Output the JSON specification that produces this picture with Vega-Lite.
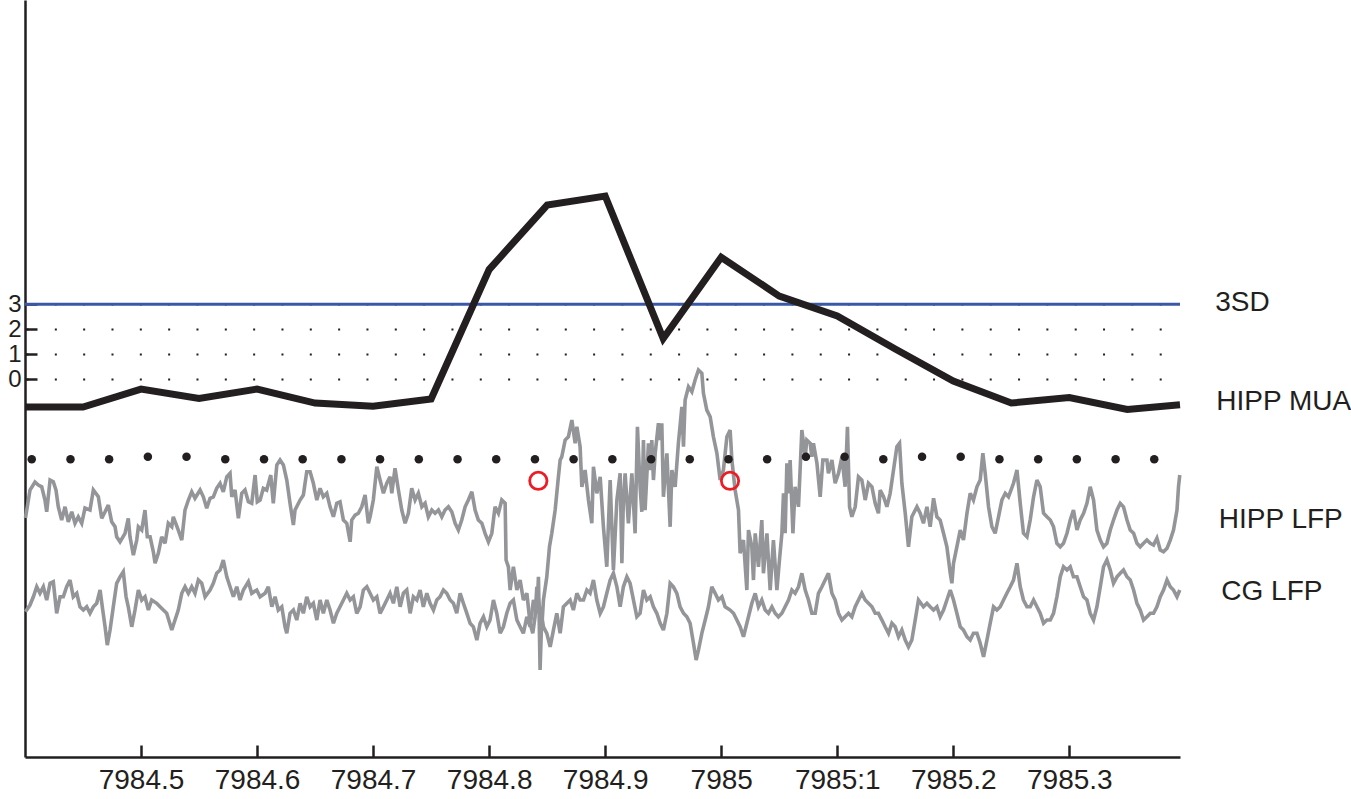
{
"$schema":"https://vega.github.io/schema/vega-lite/v6.json",
"width":1155,"height":757,
"autosize":{"type":"none"},
"padding":{"left":25,"top":0,"right":171,"bottom":42},
"background":"white",
"config":{"view":{"stroke":null},
 "axis":{"title":null,"domainColor":"#231f20","domainWidth":2.5,"tickColor":"#231f20","tickWidth":2.5,"tickSize":-12,"labelFont":"Liberation Sans","labelFontSize":28,"labelColor":"#231f20","grid":false},
 "text":{"font":"Liberation Sans"}},
"datasets":{
"mua":[{"t":7984.4,"v":-1.11},{"t":7984.45,"v":-1.11},{"t":7984.5,"v":-0.39},{"t":7984.55,"v":-0.77},{"t":7984.6,"v":-0.39},{"t":7984.65,"v":-0.95},{"t":7984.7,"v":-1.08},{"t":7984.75,"v":-0.79},{"t":7984.8,"v":4.39},{"t":7984.85,"v":6.97},{"t":7984.9,"v":7.33},{"t":7984.95,"v":1.63},{"t":7985.0,"v":4.88},{"t":7985.05,"v":3.33},{"t":7985.1,"v":2.53},{"t":7985.15,"v":1.21},{"t":7985.2,"v":-0.07},{"t":7985.25,"v":-0.95},{"t":7985.3,"v":-0.73},{"t":7985.35,"v":-1.21},{"t":7985.3954,"v":-1.02}],
"hipp":[{"t":7984.4004,"v":-5.55},{"t":7984.4043,"v":-4.43},{"t":7984.4086,"v":-4.11},{"t":7984.4115,"v":-4.23},{"t":7984.4144,"v":-4.3},{"t":7984.4172,"v":-4.83},{"t":7984.4187,"v":-5.3},{"t":7984.4216,"v":-4.03},{"t":7984.4244,"v":-4.1},{"t":7984.4267,"v":-4.43},{"t":7984.4287,"v":-5.1},{"t":7984.4316,"v":-5.63},{"t":7984.4345,"v":-5.1},{"t":7984.4373,"v":-5.7},{"t":7984.4403,"v":-5.3},{"t":7984.4431,"v":-5.76},{"t":7984.4459,"v":-5.5},{"t":7984.4489,"v":-5.76},{"t":7984.4517,"v":-5.15},{"t":7984.456,"v":-5.23},{"t":7984.4589,"v":-4.43},{"t":7984.4632,"v":-4.7},{"t":7984.4661,"v":-5.56},{"t":7984.469,"v":-5.3},{"t":7984.4718,"v":-5.03},{"t":7984.4747,"v":-5.7},{"t":7984.4776,"v":-5.9},{"t":7984.479,"v":-6.3},{"t":7984.4819,"v":-6.5},{"t":7984.4862,"v":-6.16},{"t":7984.489,"v":-5.56},{"t":7984.4905,"v":-6.3},{"t":7984.4934,"v":-7.03},{"t":7984.4963,"v":-6.43},{"t":7984.4977,"v":-5.9},{"t":7984.5006,"v":-6.03},{"t":7984.5034,"v":-5.23},{"t":7984.5054,"v":-6.3},{"t":7984.5078,"v":-6.3},{"t":7984.5106,"v":-6.9},{"t":7984.5121,"v":-7.36},{"t":7984.5149,"v":-6.96},{"t":7984.5178,"v":-6.3},{"t":7984.5207,"v":-6.56},{"t":7984.5235,"v":-5.76},{"t":7984.5265,"v":-5.9},{"t":7984.5278,"v":-5.5},{"t":7984.5321,"v":-6.03},{"t":7984.5351,"v":-6.43},{"t":7984.5379,"v":-5.23},{"t":7984.5408,"v":-4.83},{"t":7984.5437,"v":-4.5},{"t":7984.5465,"v":-4.76},{"t":7984.5509,"v":-4.43},{"t":7984.5537,"v":-4.7},{"t":7984.5566,"v":-5.16},{"t":7984.5595,"v":-4.76},{"t":7984.5623,"v":-4.7},{"t":7984.5652,"v":-4.36},{"t":7984.5681,"v":-4.16},{"t":7984.5709,"v":-4.5},{"t":7984.5739,"v":-3.9},{"t":7984.5767,"v":-3.76},{"t":7984.5782,"v":-4.7},{"t":7984.581,"v":-4.43},{"t":7984.5839,"v":-5.56},{"t":7984.5868,"v":-4.56},{"t":7984.5896,"v":-4.43},{"t":7984.5925,"v":-4.9},{"t":7984.5954,"v":-4.96},{"t":7984.5983,"v":-3.83},{"t":7984.6002,"v":-4.9},{"t":7984.6026,"v":-4.83},{"t":7984.6054,"v":-4.36},{"t":7984.6083,"v":-4.43},{"t":7984.6118,"v":-3.83},{"t":7984.614,"v":-4.96},{"t":7984.617,"v":-3.43},{"t":7984.6198,"v":-3.23},{"t":7984.6227,"v":-3.43},{"t":7984.6256,"v":-4.03},{"t":7984.6284,"v":-4.96},{"t":7984.6313,"v":-5.83},{"t":7984.6327,"v":-5.23},{"t":7984.6371,"v":-4.83},{"t":7984.6399,"v":-4.63},{"t":7984.6428,"v":-3.7},{"t":7984.6457,"v":-3.7},{"t":7984.6485,"v":-4.16},{"t":7984.6515,"v":-4.83},{"t":7984.6543,"v":-4.36},{"t":7984.6571,"v":-4.7},{"t":7984.6601,"v":-4.56},{"t":7984.6629,"v":-5.1},{"t":7984.6658,"v":-5.5},{"t":7984.6687,"v":-4.96},{"t":7984.6715,"v":-4.9},{"t":7984.6744,"v":-5.63},{"t":7984.6773,"v":-5.76},{"t":7984.6802,"v":-6.5},{"t":7984.6816,"v":-5.63},{"t":7984.6845,"v":-5.43},{"t":7984.6873,"v":-5.36},{"t":7984.6902,"v":-5.1},{"t":7984.6931,"v":-4.63},{"t":7984.6959,"v":-5.76},{"t":7984.6974,"v":-5.5},{"t":7984.7002,"v":-4.83},{"t":7984.7032,"v":-3.5},{"t":7984.706,"v":-4.03},{"t":7984.7089,"v":-4.56},{"t":7984.7118,"v":-4.16},{"t":7984.7146,"v":-3.9},{"t":7984.7161,"v":-4.56},{"t":7984.7189,"v":-3.56},{"t":7984.7218,"v":-4.43},{"t":7984.7247,"v":-5.23},{"t":7984.7276,"v":-5.76},{"t":7984.7304,"v":-5.36},{"t":7984.7333,"v":-4.36},{"t":7984.7362,"v":-4.83},{"t":7984.739,"v":-4.56},{"t":7984.742,"v":-5.1},{"t":7984.7448,"v":-4.96},{"t":7984.7476,"v":-5.5},{"t":7984.7506,"v":-5.23},{"t":7984.7534,"v":-5.36},{"t":7984.7563,"v":-5.23},{"t":7984.7592,"v":-5.5},{"t":7984.762,"v":-5.23},{"t":7984.7649,"v":-5.1},{"t":7984.7678,"v":-5.3},{"t":7984.7707,"v":-5.76},{"t":7984.7735,"v":-6.03},{"t":7984.7764,"v":-5.63},{"t":7984.7793,"v":-5.1},{"t":7984.7821,"v":-4.83},{"t":7984.7851,"v":-4.5},{"t":7984.7879,"v":-5.23},{"t":7984.7907,"v":-5.63},{"t":7984.7937,"v":-5.76},{"t":7984.7965,"v":-6.16},{"t":7984.7994,"v":-6.5},{"t":7984.8023,"v":-6.16},{"t":7984.8051,"v":-5.1},{"t":7984.808,"v":-5.36},{"t":7984.8109,"v":-4.83},{"t":7984.8138,"v":-4.96},{"t":7984.8146,"v":-7.23},{"t":7984.8166,"v":-7.5},{"t":7984.8181,"v":-8.43},{"t":7984.8209,"v":-7.5},{"t":7984.8239,"v":-8.43},{"t":7984.8267,"v":-8.03},{"t":7984.8295,"v":-8.83},{"t":7984.8325,"v":-8.56},{"t":7984.8353,"v":-9.76},{"t":7984.8376,"v":-10.16},{"t":7984.8396,"v":-9.5},{"t":7984.8411,"v":-8.3},{"t":7984.8439,"v":-9.36},{"t":7984.8454,"v":-9.9},{"t":7984.8468,"v":-8.83},{"t":7984.8497,"v":-7.9},{"t":7984.852,"v":-6.7},{"t":7984.854,"v":-6.16},{"t":7984.8569,"v":-5.23},{"t":7984.8597,"v":-3.9},{"t":7984.8612,"v":-3.23},{"t":7984.8626,"v":-3.1},{"t":7984.8655,"v":-2.43},{"t":7984.8683,"v":-2.3},{"t":7984.8713,"v":-1.63},{"t":7984.8741,"v":-2.56},{"t":7984.8756,"v":-1.9},{"t":7984.8784,"v":-2.7},{"t":7984.8799,"v":-4.3},{"t":7984.8827,"v":-3.63},{"t":7984.8856,"v":-4.83},{"t":7984.8885,"v":-5.76},{"t":7984.8899,"v":-3.5},{"t":7984.8928,"v":-4.56},{"t":7984.8957,"v":-3.9},{"t":7984.8985,"v":-5.9},{"t":7984.9014,"v":-7.5},{"t":7984.9043,"v":-4.03},{"t":7984.9071,"v":-7.63},{"t":7984.9101,"v":-4.83},{"t":7984.9129,"v":-3.76},{"t":7984.9144,"v":-7.36},{"t":7984.9157,"v":-4.83},{"t":7984.9172,"v":-3.76},{"t":7984.92,"v":-5.76},{"t":7984.923,"v":-3.76},{"t":7984.9258,"v":-6.16},{"t":7984.9278,"v":-1.9},{"t":7984.9301,"v":-4.3},{"t":7984.9316,"v":-5.3},{"t":7984.933,"v":-2.43},{"t":7984.9344,"v":-5.23},{"t":7984.9373,"v":-2.56},{"t":7984.9388,"v":-3.63},{"t":7984.9402,"v":-2.43},{"t":7984.9416,"v":-4.03},{"t":7984.9431,"v":-2.96},{"t":7984.9459,"v":-1.76},{"t":7984.9474,"v":-2.43},{"t":7984.9488,"v":-1.76},{"t":7984.9502,"v":-4.7},{"t":7984.9532,"v":-2.96},{"t":7984.956,"v":-5.9},{"t":7984.9575,"v":-3.63},{"t":7984.9603,"v":-4.3},{"t":7984.9631,"v":-2.56},{"t":7984.9661,"v":-1.1},{"t":7984.9675,"v":-2.7},{"t":7984.9689,"v":-0.83},{"t":7984.9718,"v":-0.3},{"t":7984.9747,"v":-0.5},{"t":7984.9775,"v":-0.03},{"t":7984.9804,"v":0.37},{"t":7984.9833,"v":0.24},{"t":7984.9847,"v":-0.56},{"t":7984.9876,"v":-1.23},{"t":7984.9905,"v":-1.5},{"t":7984.9933,"v":-2.3},{"t":7984.9963,"v":-2.96},{"t":7984.9991,"v":-4.03},{"t":7985.0019,"v":-3.63},{"t":7985.0049,"v":-2.3},{"t":7985.0077,"v":-2.03},{"t":7985.0092,"v":-3.23},{"t":7985.012,"v":-4.43},{"t":7985.0149,"v":-5.23},{"t":7985.0163,"v":-6.96},{"t":7985.0192,"v":-6.43},{"t":7985.0221,"v":-8.43},{"t":7985.0235,"v":-6.03},{"t":7985.0264,"v":-6.7},{"t":7985.0278,"v":-8.03},{"t":7985.0293,"v":-6.16},{"t":7985.0321,"v":-7.5},{"t":7985.035,"v":-5.63},{"t":7985.0364,"v":-7.76},{"t":7985.0394,"v":-6.16},{"t":7985.0422,"v":-8.43},{"t":7985.045,"v":-6.43},{"t":7985.048,"v":-8.43},{"t":7985.0502,"v":-7.23},{"t":7985.0523,"v":-6.16},{"t":7985.0537,"v":-4.56},{"t":7985.0551,"v":-6.16},{"t":7985.0566,"v":-3.36},{"t":7985.058,"v":-4.56},{"t":7985.0594,"v":-3.23},{"t":7985.0618,"v":-6.16},{"t":7985.0637,"v":-4.3},{"t":7985.0666,"v":-5.1},{"t":7985.0695,"v":-2.03},{"t":7985.0724,"v":-3.1},{"t":7985.0738,"v":-2.43},{"t":7985.0767,"v":-2.56},{"t":7985.0781,"v":-3.1},{"t":7985.0795,"v":-2.56},{"t":7985.0825,"v":-3.36},{"t":7985.0853,"v":-4.7},{"t":7985.0876,"v":-3.23},{"t":7985.0911,"v":-3.23},{"t":7985.0924,"v":-3.76},{"t":7985.0954,"v":-3.23},{"t":7985.0982,"v":-4.16},{"t":7985.1011,"v":-3.76},{"t":7985.104,"v":-3.1},{"t":7985.1068,"v":-4.3},{"t":7985.1088,"v":-1.9},{"t":7985.1106,"v":-5.1},{"t":7985.1126,"v":-5.5},{"t":7985.1155,"v":-5.1},{"t":7985.1183,"v":-3.9},{"t":7985.1212,"v":-4.03},{"t":7985.1241,"v":-4.83},{"t":7985.1269,"v":-4.16},{"t":7985.1299,"v":-4.3},{"t":7985.1327,"v":-4.96},{"t":7985.1355,"v":-5.36},{"t":7985.137,"v":-4.43},{"t":7985.1399,"v":-4.7},{"t":7985.1428,"v":-5.1},{"t":7985.1456,"v":-4.56},{"t":7985.1485,"v":-3.63},{"t":7985.1514,"v":-2.7},{"t":7985.1537,"v":-2.56},{"t":7985.1557,"v":-4.16},{"t":7985.1586,"v":-5.36},{"t":7985.1614,"v":-6.7},{"t":7985.1643,"v":-5.5},{"t":7985.1687,"v":-5.1},{"t":7985.1715,"v":-5.36},{"t":7985.1743,"v":-5.76},{"t":7985.1773,"v":-5.1},{"t":7985.1801,"v":-5.9},{"t":7985.183,"v":-4.76},{"t":7985.1859,"v":-5.5},{"t":7985.1887,"v":-5.63},{"t":7985.1916,"v":-6.16},{"t":7985.1945,"v":-6.7},{"t":7985.1974,"v":-7.76},{"t":7985.1988,"v":-8.16},{"t":7985.2002,"v":-7.36},{"t":7985.2031,"v":-6.7},{"t":7985.206,"v":-6.03},{"t":7985.2088,"v":-6.43},{"t":7985.2118,"v":-5.36},{"t":7985.2146,"v":-4.56},{"t":7985.2174,"v":-4.83},{"t":7985.2204,"v":-4.3},{"t":7985.2232,"v":-4.03},{"t":7985.2255,"v":-2.96},{"t":7985.2275,"v":-3.76},{"t":7985.2304,"v":-5.1},{"t":7985.2333,"v":-5.9},{"t":7985.2361,"v":-6.16},{"t":7985.239,"v":-5.5},{"t":7985.2419,"v":-4.83},{"t":7985.2448,"v":-4.56},{"t":7985.2476,"v":-4.7},{"t":7985.2519,"v":-4.16},{"t":7985.2549,"v":-3.63},{"t":7985.2577,"v":-4.96},{"t":7985.2605,"v":-6.16},{"t":7985.2635,"v":-6.3},{"t":7985.2663,"v":-5.63},{"t":7985.2692,"v":-4.7},{"t":7985.2721,"v":-4.03},{"t":7985.2749,"v":-4.3},{"t":7985.2778,"v":-5.36},{"t":7985.2807,"v":-5.5},{"t":7985.2836,"v":-5.63},{"t":7985.2864,"v":-5.9},{"t":7985.2893,"v":-6.56},{"t":7985.2922,"v":-6.7},{"t":7985.295,"v":-6.56},{"t":7985.298,"v":-6.16},{"t":7985.3008,"v":-5.63},{"t":7985.3036,"v":-5.23},{"t":7985.3066,"v":-6.03},{"t":7985.3094,"v":-5.63},{"t":7985.3123,"v":-5.36},{"t":7985.3152,"v":-4.96},{"t":7985.318,"v":-4.3},{"t":7985.3209,"v":-4.83},{"t":7985.3238,"v":-6.03},{"t":7985.3267,"v":-6.43},{"t":7985.3295,"v":-6.7},{"t":7985.3324,"v":-6.56},{"t":7985.3353,"v":-6.03},{"t":7985.3381,"v":-5.63},{"t":7985.3411,"v":-5.23},{"t":7985.3439,"v":-4.96},{"t":7985.3467,"v":-5.1},{"t":7985.3497,"v":-5.63},{"t":7985.3525,"v":-6.03},{"t":7985.3554,"v":-6.16},{"t":7985.3583,"v":-6.56},{"t":7985.3611,"v":-6.7},{"t":7985.364,"v":-6.56},{"t":7985.3669,"v":-6.43},{"t":7985.3698,"v":-6.56},{"t":7985.3726,"v":-6.63},{"t":7985.3755,"v":-6.36},{"t":7985.3784,"v":-6.83},{"t":7985.3812,"v":-6.9},{"t":7985.3842,"v":-6.76},{"t":7985.387,"v":-6.43},{"t":7985.3898,"v":-6.03},{"t":7985.3928,"v":-5.23},{"t":7985.3941,"v":-4.3},{"t":7985.3952,"v":-3.83}],
"cg":[{"t":7984.4004,"v":-9.3},{"t":7984.4043,"v":-9.03},{"t":7984.4072,"v":-8.7},{"t":7984.4101,"v":-8.3},{"t":7984.4129,"v":-8.56},{"t":7984.4158,"v":-8.3},{"t":7984.4187,"v":-8.83},{"t":7984.4216,"v":-8.16},{"t":7984.4244,"v":-8.1},{"t":7984.4273,"v":-9.36},{"t":7984.4302,"v":-8.7},{"t":7984.433,"v":-8.7},{"t":7984.4359,"v":-8.3},{"t":7984.4388,"v":-8.03},{"t":7984.4416,"v":-8.7},{"t":7984.4446,"v":-8.56},{"t":7984.4474,"v":-9.1},{"t":7984.4503,"v":-9.23},{"t":7984.4532,"v":-9.1},{"t":7984.456,"v":-9.36},{"t":7984.4589,"v":-9.1},{"t":7984.4618,"v":-8.96},{"t":7984.4647,"v":-8.43},{"t":7984.467,"v":-9.23},{"t":7984.469,"v":-9.9},{"t":7984.4709,"v":-10.63},{"t":7984.4733,"v":-10.03},{"t":7984.4761,"v":-9.1},{"t":7984.479,"v":-8.16},{"t":7984.4819,"v":-7.9},{"t":7984.4847,"v":-7.7},{"t":7984.4871,"v":-8.7},{"t":7984.489,"v":-9.1},{"t":7984.492,"v":-9.9},{"t":7984.4948,"v":-9.23},{"t":7984.4977,"v":-8.43},{"t":7984.5006,"v":-8.83},{"t":7984.5034,"v":-8.7},{"t":7984.5063,"v":-9.23},{"t":7984.5092,"v":-8.83},{"t":7984.5135,"v":-8.96},{"t":7984.5164,"v":-9.1},{"t":7984.5192,"v":-9.23},{"t":7984.5221,"v":-9.36},{"t":7984.5265,"v":-10.03},{"t":7984.5293,"v":-9.63},{"t":7984.5321,"v":-9.23},{"t":7984.5351,"v":-8.56},{"t":7984.5379,"v":-8.3},{"t":7984.5408,"v":-8.56},{"t":7984.5437,"v":-8.3},{"t":7984.5465,"v":-8.56},{"t":7984.5494,"v":-8.03},{"t":7984.5523,"v":-8.16},{"t":7984.5552,"v":-8.7},{"t":7984.5595,"v":-8.43},{"t":7984.5623,"v":-8.16},{"t":7984.5652,"v":-7.76},{"t":7984.5681,"v":-7.63},{"t":7984.5709,"v":-7.23},{"t":7984.5739,"v":-7.9},{"t":7984.5767,"v":-8.3},{"t":7984.5796,"v":-8.7},{"t":7984.5825,"v":-8.3},{"t":7984.5853,"v":-8.83},{"t":7984.5882,"v":-8.43},{"t":7984.5925,"v":-8.1},{"t":7984.5954,"v":-8.56},{"t":7984.5997,"v":-8.43},{"t":7984.6026,"v":-8.7},{"t":7984.6069,"v":-8.56},{"t":7984.6097,"v":-8.3},{"t":7984.6127,"v":-9.1},{"t":7984.6155,"v":-8.7},{"t":7984.6183,"v":-9.23},{"t":7984.6213,"v":-9.1},{"t":7984.6241,"v":-9.9},{"t":7984.6256,"v":-10.16},{"t":7984.6284,"v":-9.36},{"t":7984.6313,"v":-9.23},{"t":7984.6342,"v":-9.63},{"t":7984.6371,"v":-8.96},{"t":7984.6399,"v":-9.36},{"t":7984.6428,"v":-8.7},{"t":7984.6457,"v":-9.1},{"t":7984.6485,"v":-8.96},{"t":7984.6515,"v":-9.63},{"t":7984.6543,"v":-8.83},{"t":7984.6571,"v":-9.36},{"t":7984.6601,"v":-8.83},{"t":7984.6629,"v":-9.23},{"t":7984.6658,"v":-9.76},{"t":7984.6687,"v":-9.36},{"t":7984.6715,"v":-9.1},{"t":7984.6744,"v":-8.83},{"t":7984.6773,"v":-8.56},{"t":7984.6802,"v":-8.83},{"t":7984.683,"v":-8.7},{"t":7984.6859,"v":-9.36},{"t":7984.6888,"v":-9.1},{"t":7984.6916,"v":-8.43},{"t":7984.6946,"v":-8.3},{"t":7984.6974,"v":-8.56},{"t":7984.7002,"v":-8.83},{"t":7984.7032,"v":-8.7},{"t":7984.706,"v":-9.36},{"t":7984.7089,"v":-9.1},{"t":7984.7118,"v":-8.83},{"t":7984.7146,"v":-8.56},{"t":7984.7175,"v":-8.96},{"t":7984.7204,"v":-8.3},{"t":7984.7233,"v":-9.1},{"t":7984.7261,"v":-8.56},{"t":7984.729,"v":-8.43},{"t":7984.7319,"v":-9.36},{"t":7984.7347,"v":-8.7},{"t":7984.7377,"v":-8.83},{"t":7984.7405,"v":-8.43},{"t":7984.7433,"v":-9.1},{"t":7984.7463,"v":-8.56},{"t":7984.7491,"v":-8.96},{"t":7984.752,"v":-9.23},{"t":7984.7549,"v":-8.83},{"t":7984.7577,"v":-8.7},{"t":7984.7606,"v":-8.43},{"t":7984.7635,"v":-8.56},{"t":7984.7664,"v":-8.83},{"t":7984.7692,"v":-8.96},{"t":7984.7721,"v":-9.36},{"t":7984.775,"v":-8.56},{"t":7984.7778,"v":-8.96},{"t":7984.7808,"v":-9.36},{"t":7984.7836,"v":-9.76},{"t":7984.7864,"v":-9.9},{"t":7984.7894,"v":-10.43},{"t":7984.7922,"v":-9.76},{"t":7984.7951,"v":-9.5},{"t":7984.798,"v":-9.9},{"t":7984.8008,"v":-9.63},{"t":7984.8037,"v":-8.83},{"t":7984.8066,"v":-9.36},{"t":7984.8095,"v":-10.16},{"t":7984.8123,"v":-9.9},{"t":7984.8152,"v":-9.36},{"t":7984.8181,"v":-8.96},{"t":7984.8209,"v":-8.83},{"t":7984.8239,"v":-9.63},{"t":7984.8267,"v":-9.9},{"t":7984.8295,"v":-10.16},{"t":7984.8325,"v":-9.5},{"t":7984.8353,"v":-9.9},{"t":7984.8382,"v":-8.83},{"t":7984.8411,"v":-9.36},{"t":7984.8425,"v":-7.9},{"t":7984.8439,"v":-11.63},{"t":7984.8454,"v":-9.5},{"t":7984.8468,"v":-9.9},{"t":7984.8497,"v":-10.16},{"t":7984.8526,"v":-10.7},{"t":7984.8554,"v":-10.03},{"t":7984.8583,"v":-9.36},{"t":7984.8612,"v":-10.16},{"t":7984.864,"v":-9.1},{"t":7984.867,"v":-8.96},{"t":7984.8698,"v":-8.83},{"t":7984.8726,"v":-9.23},{"t":7984.8756,"v":-8.56},{"t":7984.8784,"v":-8.83},{"t":7984.8813,"v":-8.83},{"t":7984.8842,"v":-8.43},{"t":7984.887,"v":-8.56},{"t":7984.8899,"v":-8.03},{"t":7984.8928,"v":-8.83},{"t":7984.8957,"v":-9.36},{"t":7984.8985,"v":-9.1},{"t":7984.9014,"v":-8.56},{"t":7984.9043,"v":-8.03},{"t":7984.9071,"v":-7.76},{"t":7984.9101,"v":-8.3},{"t":7984.9129,"v":-9.1},{"t":7984.9157,"v":-8.3},{"t":7984.9187,"v":-7.9},{"t":7984.9215,"v":-8.16},{"t":7984.9244,"v":-8.83},{"t":7984.9273,"v":-9.5},{"t":7984.9301,"v":-9.36},{"t":7984.933,"v":-8.43},{"t":7984.9359,"v":-8.83},{"t":7984.9388,"v":-8.7},{"t":7984.9416,"v":-9.1},{"t":7984.9445,"v":-9.36},{"t":7984.9474,"v":-9.76},{"t":7984.9502,"v":-10.03},{"t":7984.9532,"v":-9.36},{"t":7984.956,"v":-8.16},{"t":7984.9588,"v":-8.3},{"t":7984.9618,"v":-8.56},{"t":7984.9646,"v":-9.1},{"t":7984.9675,"v":-9.36},{"t":7984.9704,"v":-9.5},{"t":7984.9732,"v":-9.76},{"t":7984.9761,"v":-10.56},{"t":7984.9784,"v":-11.23},{"t":7984.9804,"v":-10.83},{"t":7984.9833,"v":-10.16},{"t":7984.9862,"v":-9.63},{"t":7984.989,"v":-9.1},{"t":7984.9919,"v":-8.3},{"t":7984.9948,"v":-8.56},{"t":7984.9976,"v":-8.83},{"t":7985.0006,"v":-8.7},{"t":7985.0034,"v":-9.1},{"t":7985.0077,"v":-9.23},{"t":7985.0106,"v":-9.36},{"t":7985.0135,"v":-9.63},{"t":7985.0163,"v":-9.9},{"t":7985.0192,"v":-10.3},{"t":7985.0221,"v":-9.76},{"t":7985.0264,"v":-8.96},{"t":7985.0293,"v":-8.56},{"t":7985.0321,"v":-9.1},{"t":7985.035,"v":-8.83},{"t":7985.0379,"v":-9.23},{"t":7985.0407,"v":-9.36},{"t":7985.0437,"v":-9.1},{"t":7985.0465,"v":-9.36},{"t":7985.0493,"v":-9.5},{"t":7985.0523,"v":-9.36},{"t":7985.0551,"v":-9.1},{"t":7985.058,"v":-8.83},{"t":7985.0609,"v":-8.43},{"t":7985.0637,"v":-8.56},{"t":7985.0666,"v":-8.3},{"t":7985.0695,"v":-7.76},{"t":7985.0724,"v":-8.43},{"t":7985.0752,"v":-8.83},{"t":7985.0781,"v":-9.36},{"t":7985.081,"v":-9.36},{"t":7985.0838,"v":-8.56},{"t":7985.0868,"v":-8.3},{"t":7985.0896,"v":-8.03},{"t":7985.0924,"v":-7.76},{"t":7985.0954,"v":-8.56},{"t":7985.0982,"v":-8.83},{"t":7985.1011,"v":-9.36},{"t":7985.104,"v":-9.63},{"t":7985.1068,"v":-9.5},{"t":7985.1097,"v":-9.36},{"t":7985.1126,"v":-9.5},{"t":7985.1155,"v":-9.1},{"t":7985.1183,"v":-8.83},{"t":7985.1212,"v":-8.56},{"t":7985.1241,"v":-8.83},{"t":7985.1269,"v":-8.96},{"t":7985.1299,"v":-9.1},{"t":7985.1327,"v":-9.36},{"t":7985.1355,"v":-9.36},{"t":7985.1385,"v":-9.63},{"t":7985.1413,"v":-9.9},{"t":7985.1442,"v":-10.16},{"t":7985.1471,"v":-9.76},{"t":7985.1499,"v":-9.9},{"t":7985.1528,"v":-10.3},{"t":7985.1557,"v":-10.03},{"t":7985.1586,"v":-10.43},{"t":7985.1614,"v":-10.7},{"t":7985.1643,"v":-10.43},{"t":7985.1672,"v":-9.63},{"t":7985.17,"v":-8.83},{"t":7985.1743,"v":-9.1},{"t":7985.1773,"v":-8.96},{"t":7985.1801,"v":-9.1},{"t":7985.183,"v":-9.23},{"t":7985.1859,"v":-9.1},{"t":7985.1887,"v":-9.5},{"t":7985.1916,"v":-9.23},{"t":7985.1945,"v":-8.83},{"t":7985.1974,"v":-8.43},{"t":7985.2002,"v":-8.83},{"t":7985.2031,"v":-9.36},{"t":7985.206,"v":-9.9},{"t":7985.2088,"v":-10.03},{"t":7985.2118,"v":-10.3},{"t":7985.2146,"v":-10.43},{"t":7985.2174,"v":-10.16},{"t":7985.2204,"v":-10.16},{"t":7985.2232,"v":-10.56},{"t":7985.2261,"v":-11.1},{"t":7985.229,"v":-10.43},{"t":7985.2318,"v":-9.76},{"t":7985.2347,"v":-9.1},{"t":7985.2376,"v":-9.23},{"t":7985.2405,"v":-9.1},{"t":7985.2433,"v":-8.83},{"t":7985.2462,"v":-8.56},{"t":7985.2491,"v":-8.3},{"t":7985.2519,"v":-8.03},{"t":7985.2549,"v":-7.36},{"t":7985.2577,"v":-8.3},{"t":7985.2605,"v":-8.83},{"t":7985.2635,"v":-9.1},{"t":7985.2663,"v":-9.1},{"t":7985.2692,"v":-8.83},{"t":7985.2721,"v":-9.1},{"t":7985.2749,"v":-9.36},{"t":7985.2778,"v":-9.76},{"t":7985.2807,"v":-9.63},{"t":7985.2836,"v":-9.63},{"t":7985.2864,"v":-9.36},{"t":7985.2893,"v":-8.7},{"t":7985.2922,"v":-7.9},{"t":7985.295,"v":-7.5},{"t":7985.298,"v":-7.63},{"t":7985.3008,"v":-7.5},{"t":7985.3036,"v":-7.9},{"t":7985.3066,"v":-7.9},{"t":7985.3094,"v":-8.3},{"t":7985.3123,"v":-8.7},{"t":7985.3152,"v":-8.83},{"t":7985.318,"v":-9.36},{"t":7985.3209,"v":-9.63},{"t":7985.3238,"v":-9.1},{"t":7985.3267,"v":-8.3},{"t":7985.3295,"v":-7.5},{"t":7985.3324,"v":-7.23},{"t":7985.3353,"v":-7.63},{"t":7985.3381,"v":-8.16},{"t":7985.3411,"v":-7.9},{"t":7985.3439,"v":-7.76},{"t":7985.3467,"v":-7.63},{"t":7985.3497,"v":-7.9},{"t":7985.3525,"v":-8.03},{"t":7985.3554,"v":-8.43},{"t":7985.3583,"v":-8.96},{"t":7985.3611,"v":-9.23},{"t":7985.364,"v":-9.63},{"t":7985.3669,"v":-9.5},{"t":7985.3698,"v":-9.36},{"t":7985.3726,"v":-9.36},{"t":7985.3755,"v":-9.1},{"t":7985.3784,"v":-8.7},{"t":7985.3812,"v":-8.43},{"t":7985.3842,"v":-8.03},{"t":7985.387,"v":-8.3},{"t":7985.3898,"v":-8.43},{"t":7985.3928,"v":-8.7},{"t":7985.3952,"v":-8.43}],
"dots":[{"t":7984.4058,"v":-3.2},{"t":7984.4392,"v":-3.2},{"t":7984.4725,"v":-3.2},{"t":7984.5059,"v":-3.1},{"t":7984.5392,"v":-3.1},{"t":7984.5726,"v":-3.2},{"t":7984.606,"v":-3.2},{"t":7984.6393,"v":-3.2},{"t":7984.6727,"v":-3.2},{"t":7984.706,"v":-3.2},{"t":7984.7394,"v":-3.2},{"t":7984.7728,"v":-3.2},{"t":7984.8061,"v":-3.2},{"t":7984.8395,"v":-3.2},{"t":7984.8728,"v":-3.2},{"t":7984.9062,"v":-3.2},{"t":7984.9396,"v":-3.2},{"t":7984.9729,"v":-3.2},{"t":7985.0063,"v":-3.2},{"t":7985.0396,"v":-3.2},{"t":7985.073,"v":-3.1},{"t":7985.1064,"v":-3.1},{"t":7985.1397,"v":-3.2},{"t":7985.1731,"v":-3.1},{"t":7985.2064,"v":-3.1},{"t":7985.2398,"v":-3.2},{"t":7985.2732,"v":-3.2},{"t":7985.3065,"v":-3.2},{"t":7985.3399,"v":-3.2},{"t":7985.3732,"v":-3.2}],
"sd":[{"t":7984.4,"t2":7985.3954,"v":3}],
"events":[{"t":7984.8424,"v":-4.06},{"t":7985.0076,"v":-4.06}],
"labels":[{"t":7985.4258,"v":3.04,"label":"3SD"},{"t":7985.4267,"v":-0.9,"label":"HIPP MUA"},{"t":7985.4288,"v":-5.63,"label":"HIPP LFP"},{"t":7985.431,"v":-8.5,"label":"CG LFP"}]
},
"encoding":{
 "x":{"field":"t","type":"quantitative","scale":{"domain":[7984.4,7985.3954],"nice":false,"zero":false},
  "axis":{"values":[7984.5,7984.6,7984.7,7984.8,7984.9,7985,7985.1,7985.2,7985.3],"format":".1~f","labelExpr":"datum.label == '7985.1' ? '7985:1' : datum.label","labelPadding":21,"labelFlush":false,"labelOverlap":false}},
 "y":{"field":"v","type":"quantitative","scale":{"domain":[-15.108,15.172],"nice":false,"zero":false},
  "axis":{"values":[0,1,2,3],"format":"d","labelPadding":16,"labelFontSize":24,"labelOverlap":false,"labelBound":false,"grid":true,"gridColor":"#231f20","gridWidth":2,"gridDash":[2,26.33],"gridDashOffset":-1,"gridOpacity":1}}
},
"layer":[
 {"data":{"name":"sd"},"mark":{"type":"rule","color":"#3b58a8","strokeWidth":3},
  "encoding":{"x2":{"field":"t2"}}},
 {"data":{"name":"hipp"},"mark":{"type":"line","color":"#939598","strokeWidth":3.6,"strokeJoin":"miter","strokeMiterLimit":3}},
 {"data":{"name":"cg"},"mark":{"type":"line","color":"#939598","strokeWidth":3.6,"strokeJoin":"miter","strokeMiterLimit":3}},
 {"data":{"name":"mua"},"mark":{"type":"line","color":"#231f20","strokeWidth":7,"strokeJoin":"miter","strokeCap":"butt"}},
 {"data":{"name":"dots"},"mark":{"type":"point","filled":true,"shape":"circle","color":"#231f20","size":72,"opacity":1}},
 {"data":{"name":"events"},"mark":{"type":"point","filled":false,"shape":"circle","color":"#ed1c24","strokeWidth":2.8,"size":300,"opacity":1}},
 {"data":{"name":"labels"},"mark":{"type":"text","align":"left","baseline":"middle","fontSize":28,"color":"#231f20","font":"Liberation Sans"},
  "encoding":{"text":{"field":"label"}}}
]
}
